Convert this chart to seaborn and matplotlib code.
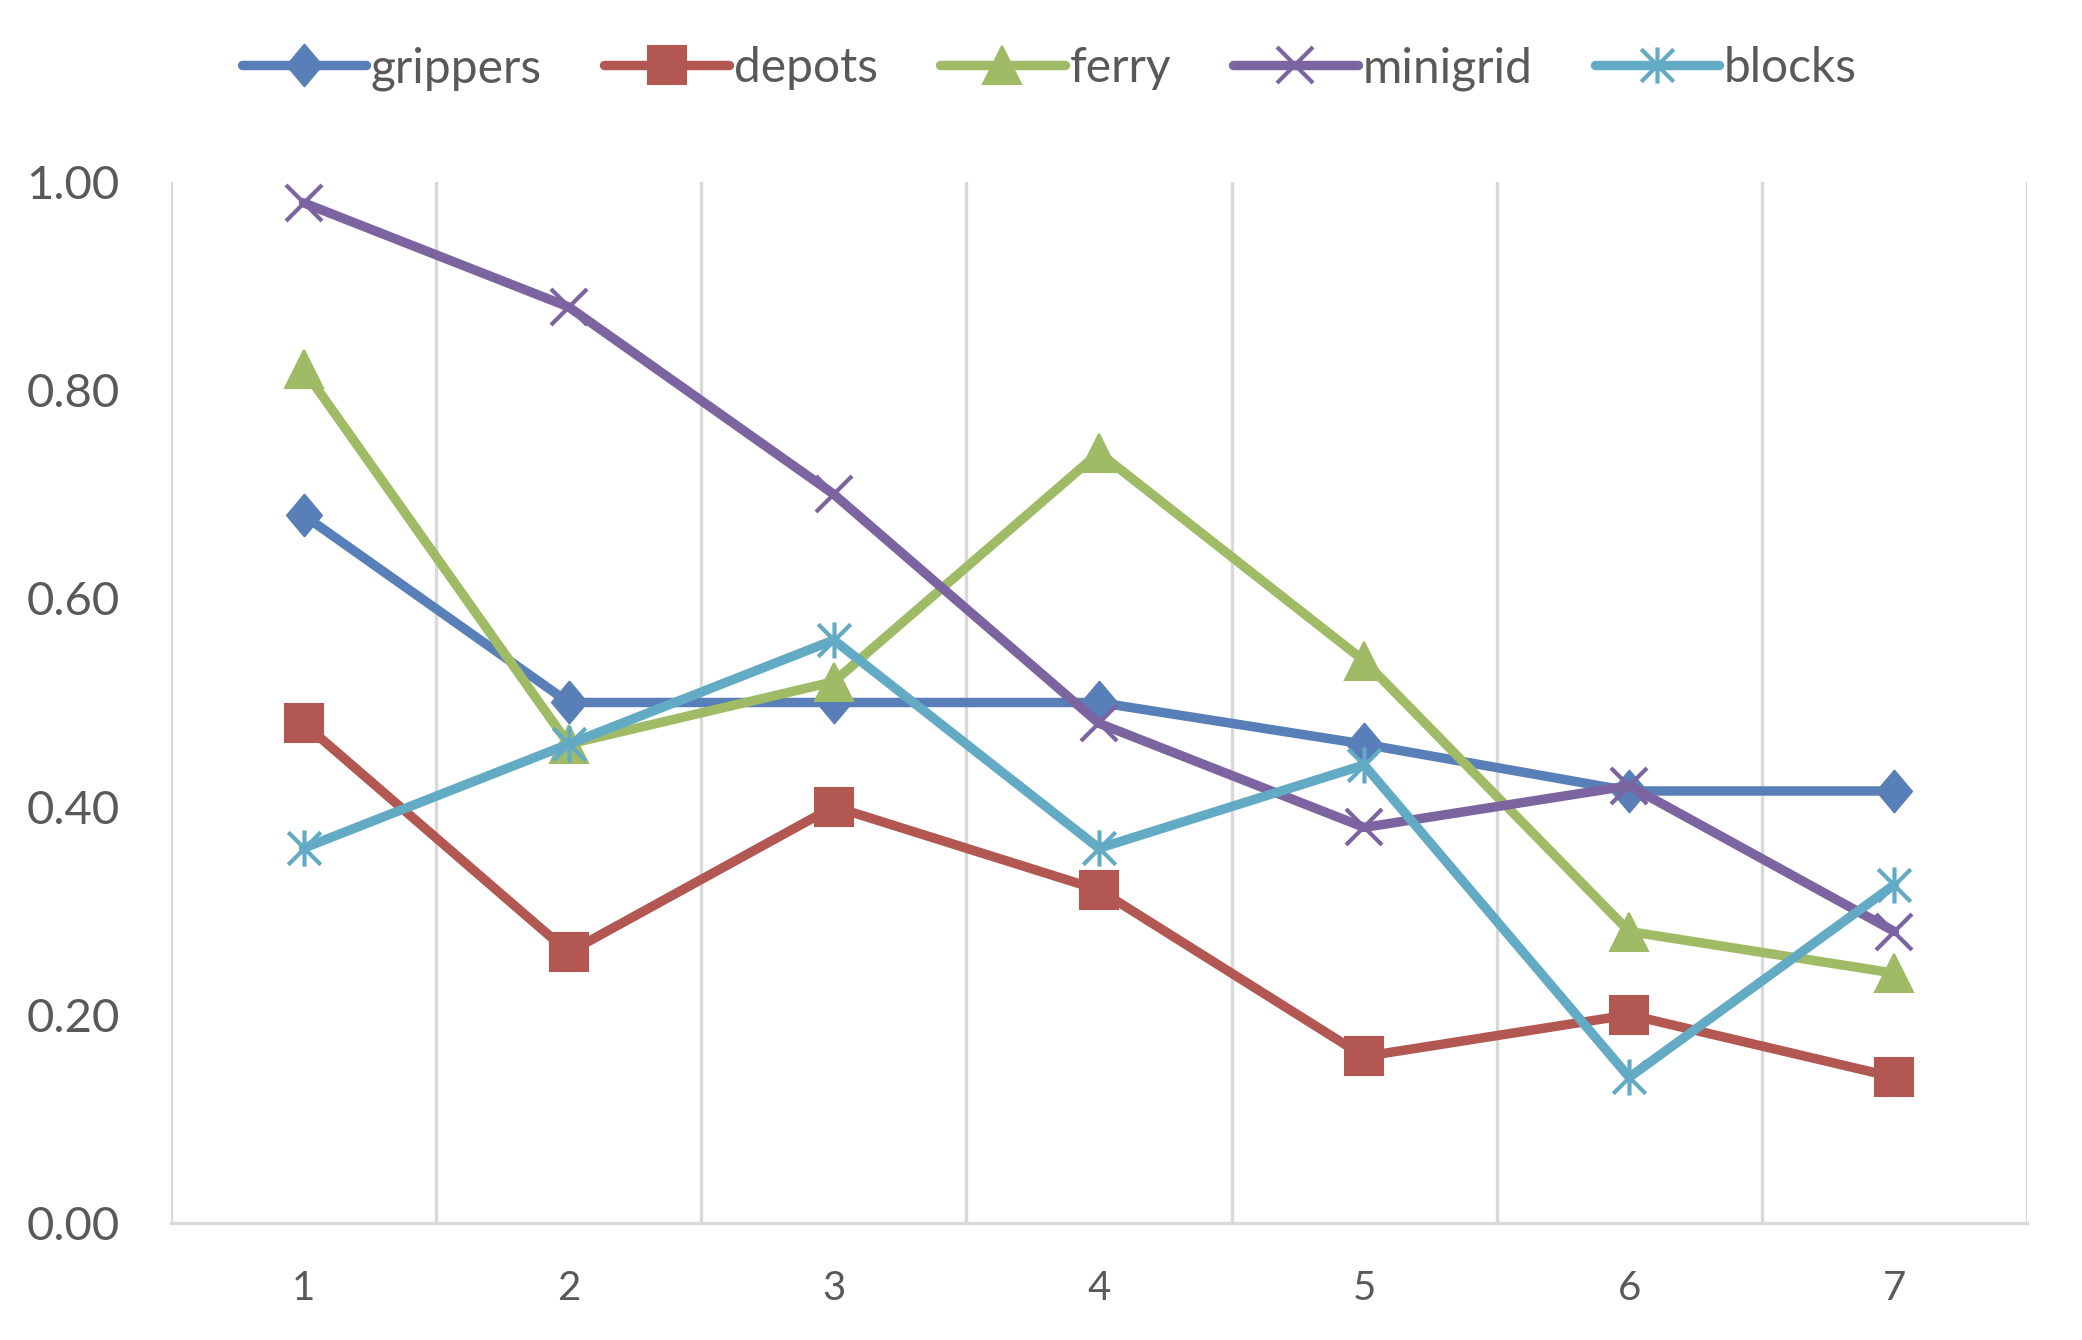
import numpy as np
import pandas as pd
import matplotlib
matplotlib.use("Agg")
import matplotlib.pyplot as plt
from matplotlib.path import Path
import seaborn as sns

# data
steps = [1, 2, 3, 4, 5, 6, 7]
grippers = [0.68, 0.50, 0.50, 0.50, 0.46, 0.415, 0.415]
depots = [0.48, 0.26, 0.40, 0.32, 0.16, 0.20, 0.14]
ferry = [0.82, 0.46, 0.52, 0.74, 0.54, 0.28, 0.24]
minigrid = [0.98, 0.88, 0.70, 0.48, 0.38, 0.42, 0.28]
blocks = [0.36, 0.46, 0.56, 0.36, 0.44, 0.14, 0.325]
y_ticks = [0.0, 0.2, 0.4, 0.6, 0.8, 1.0]

# excel style markers: slightly tall diamond and star (x plus vertical bar)
diamond = Path([(0, 0.5), (0.42, 0), (0, -0.5), (-0.42, 0), (0, 0.5)],
               [Path.MOVETO, Path.LINETO, Path.LINETO, Path.LINETO, Path.CLOSEPOLY])
star = Path([(-0.45, -0.45), (0.45, 0.45), (-0.45, 0.45), (0.45, -0.45), (0, -0.5), (0, 0.5)],
            [Path.MOVETO, Path.LINETO, Path.MOVETO, Path.LINETO, Path.MOVETO, Path.LINETO])

series = {
    "grippers": (grippers, "#587fb8", diamond, 30),
    "depots": (depots, "#b25751", "s", 27),
    "ferry": (ferry, "#a0bb65", "^", 28),
    "minigrid": (minigrid, "#7b64a0", "x", 26),
    "blocks": (blocks, "#63abc5", star, 26),
}

sns.set_theme(style="white")
plt.rcParams['font.family'] = ['Lato', 'DejaVu Sans']

fig = plt.figure(figsize=(20.82, 13.40), dpi=100)
ax = fig.add_axes([0.0821, 0.0873, 0.8915, 0.7769])

for name, (vals, col, mk, ms) in series.items():
    df = pd.DataFrame({"step": steps, "value": vals})
    filled = not (isinstance(mk, str) and mk == "x") and mk is not star
    sns.lineplot(data=df, x="step", y="value", ax=ax, color=col, linewidth=6.8,
                 marker=mk, markersize=ms, markeredgecolor=col, markerfacecolor=col,
                 markeredgewidth=1.5 if filled else 3.0, label=name, solid_capstyle="round")

ax.set_xlim(0.5, 7.5)
ax.set_ylim(0, 1.0)
ax.set_xticks(steps)
ax.set_yticks(y_ticks)
ax.set_yticklabels([f"{v:.2f}" for v in y_ticks])
ax.set_xlabel("")
ax.set_ylabel("")

# vertical gridlines at category boundaries
for b in np.arange(0.5, 8, 1.0):
    ax.axvline(b, color="#d9d9d9", linewidth=2.4, zorder=0)
for s in ["top", "left", "right"]:
    ax.spines[s].set_visible(False)
ax.spines["bottom"].set_color("#d9d9d9")
ax.spines["bottom"].set_linewidth(2.4)

ax.tick_params(axis="y", labelsize=34, colors="#595959", length=0, pad=37)
ax.tick_params(axis="x", labelsize=29, colors="#595959", length=0, pad=34)

leg = ax.legend(loc="center", bbox_to_anchor=(0.504, 0.949), bbox_transform=fig.transFigure,
                ncol=5, frameon=False, fontsize=34.5, handlelength=2.6, handletextpad=0.1,
                columnspacing=1.3, labelcolor="#595959")

plt.savefig("out.png", dpi=100)
